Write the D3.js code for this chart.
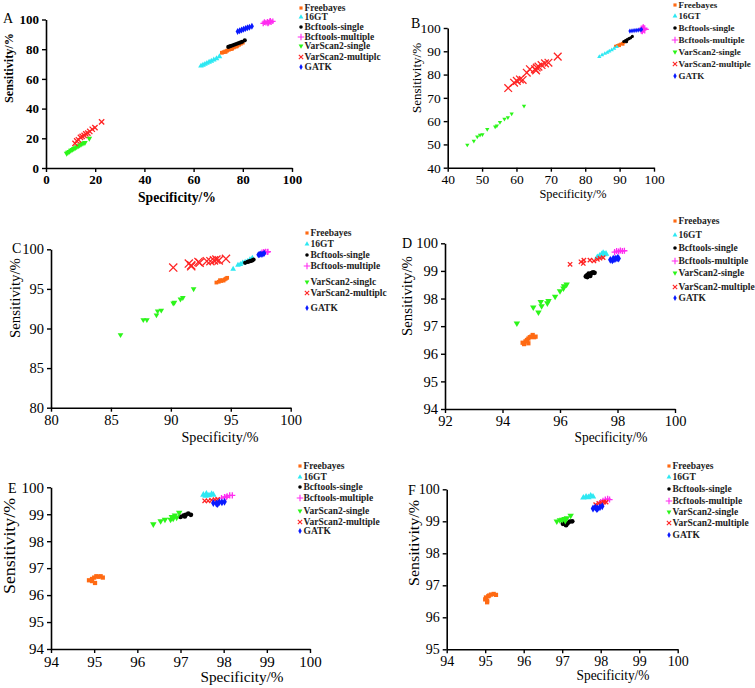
<!DOCTYPE html>
<html><head><meta charset="utf-8">
<script src="https://cdn.jsdelivr.net/npm/d3@7/dist/d3.min.js"></script>
<style>body{margin:0;background:#fff}svg{display:block}text{font-family:"Liberation Serif","Times New Roman",serif}</style>
</head><body>
<script>
// ---------- series ----------
const seriesNames = ["Freebayes","16GT","Bcftools-single","Bcftools-multiple","VarScan2-single","VarScan2-multiple","GATK"];
const seriesColors = ["#ff6a13","#2ee8f2","#000000","#ff2cf0","#2cf51a","#ff2424","#0a1aff"];
const legendA = ["Freebayes","16GT","Bcftools-single","Bcftools-multiple","VarScan2-single","VarScan2-multiplc","GATK"];
const legendB = ["Freebayes","16GT","Bcftools-single","Bcftools-multiple","VarScan2-single","VarScan2-multiple","GATK"];
const legendC = ["Freebayes","16GT","Bcftools-single","Bcftools-multiple","VarScan2-singlc","VarScan2-multiplc","GATK"];
const legendD = ["Freebayes","16GT","Bcftools-single","Bcftools-multiple","VarScan2-single","VarScan2-multiple","GATK"];
const legendE = ["Freebayes","16GT","Bcftools-single","Bcftools-multiple","VarScan2-single","VarScan2-multiple","GATK"];
const legendF = ["Freebayes","16GT","Bcftools-single","Bcftools-multiple","VarScan2-single","VarScan2-multiple","GATK"];

// ---------- tick values ----------
const ticksAx = [0,20,40,60,80,100], ticksAy = [0,20,40,60,80,100];
const ticksBx = [40,50,60,70,80,90,100], ticksBy = [40,50,60,70,80,90,100];
const ticksCx = [80,85,90,95,100], ticksCy = [80,85,90,95,100];
const ticksDx = [92,94,96,98,100], ticksDy = [94,95,96,97,98,99,100];
const ticksEx = [94,95,96,97,98,99,100], ticksEy = [94,95,96,97,98,99,100];
const ticksFx = [94,95,96,97,98,99,100], ticksFy = [95,96,97,98,99,100];

// ---------- data [specificity, sensitivity] ----------
// Panel A
const A_freebayes = [[71.5,77.6],[72.2,78],[72.9,78.5],[73.6,79],[74.3,79.6],[75,80.1],[75.7,80.6],[76.4,81.2],[77.1,81.8],[77.8,82.4],[78.5,83],[79.2,83.7],[80,84.4],[73,78.2],[75.5,80.2],[77.5,81.9]];
const A_16gt = [[63,68.7],[63.8,69.3],[64.6,69.9],[65.4,70.6],[66.3,71.3],[67.2,72],[68.2,72.8],[69.3,73.7],[70.5,75]];
const A_bcfS = [[74.1,81.5],[74.9,82],[75.7,82.5],[76.5,83],[77.3,83.5],[78.1,84],[78.9,84.5],[79.7,85],[80.8,86]];
const A_bcfM = [[88.3,97.4],[88.8,98.2],[89.4,97.8],[90,98.5],[90.5,97.9],[91,98.7],[91.5,98.2],[92.2,98.8],[90.2,97.3],[91.2,99.1]];
const A_vsS = [[8.4,9.8],[8.9,10.5],[9.5,11.1],[10.1,11.8],[10.7,12.4],[11.3,13],[11.9,13.6],[12.5,14.2],[13.1,14.8],[13.7,15.4],[14.3,16],[15,16.6],[15.8,17.1],[17.6,19.9]];
const A_vsM = [[11.8,16.6],[12.5,18.2],[13.2,19],[14,20.6],[14.7,21.3],[15.5,22],[16.2,23],[17,23.5],[17.8,24.6],[18.8,26.1],[19.9,27.2],[22.6,31.1]];
const A_gatk = [[77.9,91.9],[78.7,92.4],[79.5,92.9],[80.3,93.4],[81.1,93.9],[81.9,94.4],[82.7,94.8],[83.7,95.4]];
// Panel B
const B_freebayes = [[88.8,92.2],[89.3,92.5],[89.8,92.8],[90.3,93.1],[90.8,93.4],[91.3,93.8],[91.8,94.2],[92.1,94.7],[90,92.4],[91,93]];
const B_16gt = [[84.1,87.7],[84.9,88.4],[85.7,89],[86.4,89.5],[87,90],[87.7,90.6],[88.4,91.2],[89.2,91.9]];
const B_bcfS = [[91.2,94.2],[91.7,94.6],[92.2,95],[92.7,95.4],[93.2,95.8],[93.7,96.4],[92,94.1]];
const B_bcfM = [[96.3,99.3],[96.8,99.6],[97.3,99.4],[96.9,99.9],[96.6,99.1]];
const B_vsS = [[45.7,49.8],[47.6,51.5],[48.6,53.3],[49.4,54],[50.1,54.3],[51.5,56.5],[53.8,57.6],[54.3,58],[55.2,59.5],[56.5,60.9],[57.5,61.6],[58.6,63.2],[62.2,66.5]];
const B_vsM = [[57.6,74.2],[59.3,76.5],[60.1,77.3],[61,77.9],[61.8,77.7],[63,80.8],[63.9,82.3],[65.4,82.3],[65.7,81.8],[65.9,83],[66.4,83.4],[67.3,84.1],[68.3,84.8],[69.3,85.1],[72,87.7]];
const B_gatk = [[93,98.7],[93.6,98.8],[94.2,98.9],[94.8,99],[95.4,99.1],[96,99.2],[96.4,99.4]];
// Panel C
const C_freebayes = [[93.8,95.8],[94,95.9],[94.2,96],[94.3,96.1],[94.4,96.05],[94.5,96.2],[94.6,96.3],[94.7,96.4],[94.1,96.1]];
const C_16gt = [[95.2,97.5],[95.6,98],[95.8,98.1],[96,98.3],[96.2,98.4],[96.4,98.5],[96.6,98.7],[96.8,98.9]];
const C_bcfS = [[96.2,98.3],[96.4,98.4],[96.5,98.45],[96.6,98.5],[96.7,98.55],[96.8,98.6],[96.9,98.7]];
const C_bcfM = [[97.6,99.6],[97.75,99.65],[97.9,99.7],[98.05,99.65],[98.1,99.7]];
const C_vsS = [[85.8,89.2],[87.7,91.1],[88,91.1],[88.8,91.7],[88.9,92.2],[89.2,92.3],[90.2,93.2],[90.3,93.3],[90.8,93.7],[91,93.9],[91.9,95]];
const C_vsM = [[90.2,97.7],[91.5,98.2],[91.7,97.98],[91.7,97.85],[92.3,98.4],[92.4,98.3],[93,98.5],[93.3,98.5],[93.6,98.6],[93.8,98.7],[94,98.6],[94.6,98.8]];
const C_gatk = [[97.3,99.3],[97.4,99.35],[97.5,99.4],[97.6,99.35],[97.7,99.45],[97.8,99.5]];
// Panel D
const D_freebayes = [[94.7,96.4],[94.75,96.35],[94.8,96.45],[94.85,96.5],[94.9,96.55],[94.95,96.6],[95,96.62],[95.05,96.68],[95.1,96.6],[94.9,96.38],[95.15,96.62]];
const D_16gt = [[97.3,99.5],[97.38,99.55],[97.45,99.6],[97.5,99.65],[97.55,99.6],[97.6,99.62],[97.42,99.52]];
const D_bcfS = [[96.9,98.8],[96.95,98.85],[97,98.9],[97.05,98.88],[97.1,98.92],[97.15,98.95],[97.2,98.93],[96.95,98.78],[97.05,98.82]];
const D_bcfM = [[97.9,99.68],[97.97,99.72],[98.04,99.7],[98.1,99.74],[98.17,99.72],[98.24,99.73]];
const D_vsS = [[94.5,97.1],[95.07,97.68],[95.25,97.5],[95.33,97.88],[95.36,97.73],[95.56,97.83],[95.6,97.92],[95.83,98.07],[96,98.27],[96.12,98.37],[96.14,98.45],[96.23,98.51]];
const D_vsM = [[96.35,99.24],[96.73,99.33],[96.83,99.39],[96.81,99.27],[97.04,99.39],[97.18,99.36],[97.3,99.42],[97.39,99.46],[97.5,99.48]];
const D_gatk = [[97.75,99.4],[97.82,99.38],[97.88,99.42],[97.94,99.44],[98,99.47],[98.04,99.45],[97.85,99.44]];
// Panel E
const E_freebayes = [[94.88,96.55],[94.95,96.6],[95,96.65],[95.05,96.7],[95.1,96.68],[95.15,96.7],[95.2,96.65],[95.02,96.45],[94.95,96.52]];
const E_16gt = [[97.53,99.72],[97.6,99.76],[97.66,99.7],[97.72,99.75],[97.76,99.72],[97.58,99.68]];
const E_bcfS = [[97,98.9],[97.07,98.95],[97.12,98.98],[97.18,99.02],[97.24,98.98],[97.1,98.92]];
const E_bcfM = [[97.95,99.6],[98.02,99.64],[98.08,99.67],[98.14,99.7],[98.2,99.7],[98.06,99.63]];
const E_vsS = [[96.37,98.63],[96.54,98.75],[96.64,98.8],[96.77,98.8],[96.8,98.9],[96.83,98.84],[96.87,98.96],[96.91,98.88],[96.97,99.06]];
const E_vsM = [[97.56,99.5],[97.64,99.5],[97.72,99.52],[97.8,99.54],[97.86,99.55]];
const E_gatk = [[97.76,99.42],[97.83,99.4],[97.9,99.45],[97.96,99.44],[98.02,99.46],[97.86,99.38]];
// Panel F
const F_freebayes = [[95.05,96.47],[95.0,96.56],[95.02,96.62],[95.08,96.66],[95.15,96.71],[95.22,96.73],[95.28,96.7],[95.1,96.68],[95.05,96.52]];
const F_16gt = [[97.55,99.74],[97.62,99.77],[97.68,99.75],[97.74,99.8],[97.8,99.77]];
const F_bcfS = [[97.02,98.92],[97.08,98.96],[97.14,98.94],[97.2,98.99],[97.26,99.0],[97.1,98.88]];
const F_bcfM = [[98.0,99.6],[98.06,99.64],[98.12,99.68],[98.18,99.7],[98.23,99.68]];
const F_vsS = [[96.86,99.0],[96.94,99.04],[97.0,99.05],[97.06,99.08],[97.12,99.1],[97.22,99.18],[97.08,99.02]];
const F_vsM = [[97.87,99.52],[97.95,99.56],[98.02,99.58],[98.08,99.6],[98.14,99.6]];
const F_gatk = [[97.8,99.4],[97.86,99.43],[97.92,99.4],[97.98,99.44],[98.04,99.47],[97.9,99.38]];

// ---------- layout ----------
const W = 755, H = 688;
const svg = d3.select("body").append("svg").attr("width", W).attr("height", H);

const panels = [
  {letter:"A", lx:3, ly:23, box:[46,292,168,19.5], xd:[0,100], yd:[0,100], xt:ticksAx, yt:ticksAy, bold:true, tick:13,
   series:[A_freebayes,A_16gt,A_bcfS,A_bcfM,A_vsS,A_vsM,A_gatk], legend:legendA, legX:301, legY:[8,17,27,37,46,57,67], legFs:9.5,
   xtitle:{x:177,y:202,len:78,fs:14}, ytitle:{x:13,y:68,len:70,fs:13}, sz:{fill:14,times:20,plus:12}},
  {letter:"B", lx:411, ly:28, box:[447.7,654,167.7,28], xd:[40,100], yd:[40,100], xt:ticksBx, yt:ticksBy, bold:false, tick:13.5,
   series:[B_freebayes,B_16gt,B_bcfS,B_bcfM,B_vsS,B_vsM,B_gatk], legend:legendB, legX:675, legY:[5,16,28,40,52,64,76], legFs:9,
   xtitle:{x:573,y:198,len:67,fs:13}, ytitle:{x:421,y:78,len:70,fs:13}, sz:{fill:8,times:40,plus:24}},
  {letter:"C", lx:12, ly:253, box:[51,290.7,407.7,249.3], xd:[80,100], yd:[80,100], xt:ticksCx, yt:ticksCy, bold:false, tick:14.5,
   series:[C_freebayes,C_16gt,C_bcfS,C_bcfM,C_vsS,C_vsM,C_gatk], legend:legendC, legX:307, legY:[233,244,255,266,282,293,308], legFs:9.5,
   xtitle:{x:220,y:442,len:77,fs:14}, ytitle:{x:20,y:298,len:80,fs:14.5}, sz:{fill:14,times:45,plus:14}},
  {letter:"D", lx:402, ly:248, box:[445,675,409,243.3], xd:[92,100], yd:[94,100], xt:ticksDx, yt:ticksDy, bold:false, tick:14.5,
   series:[D_freebayes,D_16gt,D_bcfS,D_bcfM,D_vsS,D_vsM,D_gatk], legend:legendD, legX:675, legY:[221,235,248,261,273,287,298], legFs:9.5,
   xtitle:{x:611,y:442,len:73,fs:14}, ytitle:{x:412,y:296,len:80,fs:14.5}, sz:{fill:18,times:14,plus:14}},
  {letter:"E", lx:8, ly:493, box:[51,310,649,487.3], xd:[94,100], yd:[94,100], xt:ticksEx, yt:ticksEy, bold:false, tick:15,
   series:[E_freebayes,E_16gt,E_bcfS,E_bcfM,E_vsS,E_vsM,E_gatk], legend:legendE, legX:300, legY:[466,477,487,498,511,522,531], legFs:9.5,
   xtitle:{x:242,y:682,len:83,fs:15}, ytitle:{x:15,y:546,len:96,fs:16.5}, sz:{fill:18,times:14,plus:14}},
  {letter:"F", lx:408, ly:495, box:[446.7,677.7,649.3,489.3], xd:[94,100], yd:[95,100], xt:ticksFx, yt:ticksFy, bold:false, tick:14,
   series:[F_freebayes,F_16gt,F_bcfS,F_bcfM,F_vsS,F_vsM,F_gatk], legend:legendF, legX:669, legY:[466,477,489,501,512,523,535], legFs:9.5,
   xtitle:{x:613,y:680,len:73,fs:14}, ytitle:{x:419,y:543,len:86,fs:15.5}, sz:{fill:18,times:14,plus:14}}
];

const shapes = [d3.symbolSquare, d3.symbolTriangle, d3.symbolCircle, d3.symbolPlus, d3.symbolTriangle, d3.symbolTimes, d3.symbolDiamond];
const strokeShape = [false,false,false,true,false,true,false];
const rot = [0,0,0,0,180,0,0];
function symSize(i, sz){ return i===3 ? sz.plus : i===5 ? sz.times : sz.fill; }

panels.forEach(p => {
  const [x0,x1,y0,y1] = p.box;
  const x = d3.scaleLinear().domain(p.xd).range([x0,x1]);
  const y = d3.scaleLinear().domain(p.yd).range([y0,y1]);
  const g = svg.append("g");
  const fw = p.bold ? "bold" : "normal";

  // points
  p.series.forEach((data, i) => {
    const sym = d3.symbol().type(shapes[i]).size(symSize(i, p.sz));
    g.append("g").selectAll("path").data(data).join("path")
      .attr("d", sym)
      .attr("transform", d => `translate(${x(d[0])},${y(d[1])}) rotate(${rot[i]})`)
      .attr("fill", strokeShape[i] ? "none" : seriesColors[i])
      .attr("stroke", strokeShape[i] ? seriesColors[i] : "none")
      .attr("stroke-width", strokeShape[i] ? 1.3 : 0);
  });

  // axes
  const fmt = d3.format("d");
  const ax = g.append("g").attr("transform", `translate(0,${y0})`)
    .call(d3.axisBottom(x).tickValues(p.xt).tickFormat(fmt).tickSize(4).tickPadding(3).tickSizeOuter(0));
  const ay = g.append("g").attr("transform", `translate(${x0},0)`)
    .call(d3.axisLeft(y).tickValues(p.yt).tickFormat(fmt).tickSize(4).tickPadding(3).tickSizeOuter(0));
  [ax, ay].forEach(a => {
    a.select(".domain").attr("stroke", "#000").attr("stroke-width", 1.6);
    a.selectAll(".tick line").attr("stroke", "#000").attr("stroke-width", 1.4);
    a.selectAll(".tick text").attr("fill", "#000").attr("font-size", p.tick).attr("font-weight", fw)
      .attr("font-family", "'Liberation Serif', serif");
  });

  // titles
  g.append("text").attr("x", p.xtitle.x).attr("y", p.xtitle.y).attr("text-anchor", "middle")
    .attr("font-size", p.xtitle.fs).attr("font-weight", fw)
    .attr("textLength", p.xtitle.len).attr("lengthAdjust", "spacingAndGlyphs").text("Specificity/%");
  g.append("text").attr("transform", `translate(${p.ytitle.x},${p.ytitle.y}) rotate(-90)`).attr("text-anchor", "middle")
    .attr("font-size", p.ytitle.fs).attr("font-weight", fw)
    .attr("textLength", p.ytitle.len).attr("lengthAdjust", "spacingAndGlyphs").text("Sensitivity/%");
  g.append("text").attr("x", p.lx).attr("y", p.ly).attr("font-size", 14).text(p.letter);

  // legend
  p.legend.forEach((name, i) => {
    const cy = p.legY[i];
    const s = d3.symbol().type(shapes[i]).size(i===3 ? 16 : i===5 ? 14 : 10);
    g.append("path").attr("d", s).attr("transform", `translate(${p.legX},${cy}) rotate(${rot[i]})`)
      .attr("fill", strokeShape[i] ? "none" : seriesColors[i])
      .attr("stroke", strokeShape[i] ? seriesColors[i] : "none").attr("stroke-width", 1.1);
    g.append("text").attr("x", p.legX + 3.5).attr("y", cy + 3.3).attr("font-size", p.legFs)
      .attr("font-weight", "bold").attr("fill", "#222").text(name);
  });
});
</script>
</body></html>
